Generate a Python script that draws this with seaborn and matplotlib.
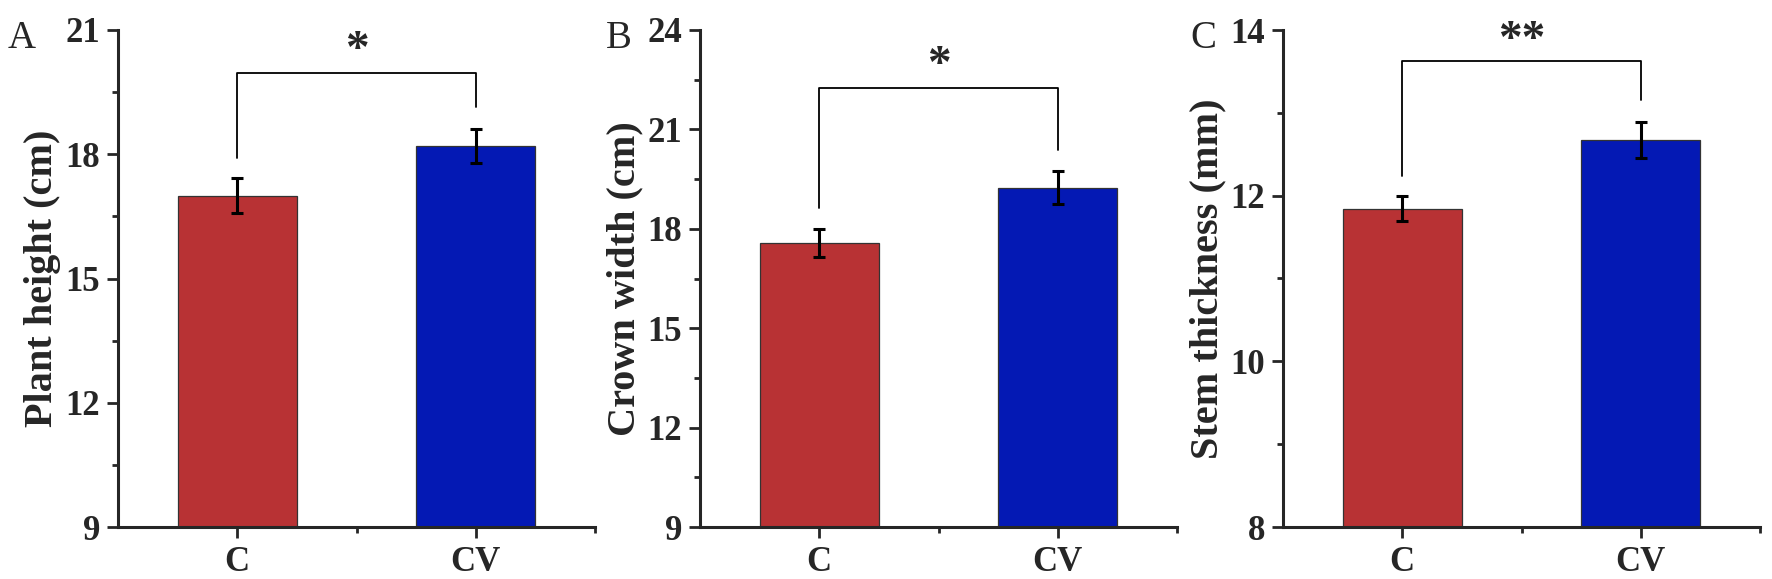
import numpy as np
import pandas as pd
import matplotlib
matplotlib.use("Agg")
import matplotlib.pyplot as plt
import seaborn as sns
from matplotlib.ticker import MultipleLocator, FixedLocator

# ---------------- data ----------------
groups = ["C", "CV"]
bar_colors = ["#B83234", "#0419B4"]

height_mean = [17.0, 18.2]
height_err = [0.42, 0.42]

crown_mean = [17.58, 19.24]
crown_err = [0.42, 0.50]

stem_mean = [11.84, 12.67]
stem_err = [0.15, 0.22]

panel_letters = ["A", "B", "C"]
y_labels = ["Plant height (cm)", "Crown width (cm)", "Stem thickness (mm)"]
y_limits = [(9, 21), (9, 24), (8, 14)]
y_steps = [3, 3, 2]
sig_labels = ["*", "*", "**"]
# bracket: (left leg bottom, top, right leg bottom, star y)
brackets = [(17.92, 19.97, 19.14, 20.5),
            (18.64, 22.25, 20.37, 22.9),
            (12.24, 13.63, 13.15, 13.87)]

# ---------------- style ----------------
sns.set_style("ticks")
plt.rcParams["font.family"] = ["Liberation Serif", "DejaVu Serif"]
plt.rcParams["font.weight"] = "bold"

W, H = 1772, 579
fig = plt.figure(figsize=(W / 100, H / 100), dpi=100)

lefts_px = [118, 700, 1283]
letter_px = [8, 606, 1190]
ax_w = 477 / W
ax_b = 1 - 527 / H
ax_h = (527 - 30) / H

means_all = [height_mean, crown_mean, stem_mean]
errs_all = [height_err, crown_err, stem_err]

for i in range(3):
    ax = fig.add_axes([lefts_px[i] / W, ax_b, ax_w, ax_h])
    df = pd.DataFrame({"group": groups, "value": means_all[i]})
    sns.barplot(data=df, x="group", y="value", hue="group", palette=bar_colors,
                width=0.5, errorbar=None, legend=False, ax=ax,
                edgecolor="#333333", linewidth=0.9, saturation=1)
    ax.errorbar(x=[0, 1], y=means_all[i], yerr=errs_all[i], fmt="none",
                ecolor="black", elinewidth=2.2, capsize=4.5, capthick=2.2, zorder=5)

    lo, hi = y_limits[i]
    ax.set_xlim(-0.5, 1.5)
    ax.set_ylim(lo, hi)
    ax.yaxis.set_major_locator(MultipleLocator(y_steps[i]))
    ax.yaxis.set_minor_locator(MultipleLocator(y_steps[i] / 2))
    ax.xaxis.set_minor_locator(FixedLocator([0.5, 1.5]))
    ax.tick_params(which="major", length=8, width=2, direction="out", labelsize=25, pad=5)
    ax.tick_params(which="minor", length=4, width=2, direction="out")
    ax.tick_params(axis="x", labelsize=25, pad=6)
    for lab in ax.get_xticklabels() + ax.get_yticklabels():
        lab.set_fontweight("bold")
    sns.despine(ax=ax)
    for s in ["left", "bottom"]:
        ax.spines[s].set_linewidth(2.2)
    ax.set_xlabel("")
    ax.set_ylabel(y_labels[i], fontsize=29, fontweight="bold", labelpad=3)

    l, t, r, sy = brackets[i]
    ax.plot([0, 0, 1, 1], [l, t, t, r], color="black", lw=1.3, clip_on=False)
    ax.text(0.5, sy, sig_labels[i], ha="center", va="center", fontsize=34,
            fontweight="bold", clip_on=False)

    fig.text(letter_px[i] / W, 1 - 48 / H, panel_letters[i], fontsize=28,
             fontweight="normal", ha="left", va="baseline")

fig.savefig("out.png", dpi=100)
